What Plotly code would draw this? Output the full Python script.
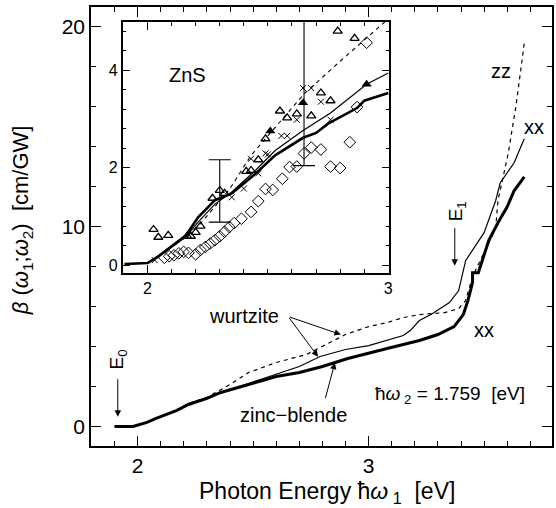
import plotly.graph_objects as go

# ---------------- main panel data ----------------
zb_xx_x = [1.90, 1.98, 2.04, 2.08, 2.17, 2.22, 2.30, 2.36, 2.48, 2.51, 2.60, 2.70, 2.80, 2.91, 3.00, 3.08,
           3.22, 3.30, 3.37, 3.41, 3.43, 3.45, 3.45, 3.475, 3.52, 3.56, 3.60, 3.63, 3.674]
zb_xx_y = [0.0, 0.0, 0.2, 0.4, 0.8, 1.1, 1.4, 1.7, 2.1, 2.2, 2.5, 2.7, 3.0, 3.4, 3.65, 3.9,
           4.3, 4.6, 5.0, 5.6, 6.3, 7.2, 7.7, 7.7, 9.3, 10.2, 11.0, 11.8, 12.5]

wz_xx_x = [1.90, 1.98, 2.04, 2.08, 2.17, 2.22, 2.30, 2.36, 2.48, 2.60, 2.70, 2.79, 2.90, 3.00, 3.08,
           3.15, 3.18, 3.22, 3.27, 3.35, 3.39, 3.42, 3.50, 3.55, 3.57, 3.63, 3.674]
wz_xx_y = [0.0, 0.0, 0.2, 0.4, 0.8, 1.15, 1.45, 1.7, 2.15, 2.6, 3.0, 3.5, 3.85, 4.05, 4.3,
           4.55, 4.8, 5.3, 5.6, 6.2, 6.8, 8.3, 9.7, 11.3, 12.2, 13.2, 14.4]

wz_zz_x = [1.90, 1.98, 2.04, 2.08, 2.17, 2.22, 2.30, 2.40, 2.48, 2.60, 2.73, 2.80, 2.90, 3.00, 3.08,
           3.15, 3.22, 3.33, 3.39, 3.42, 3.45, 3.52, 3.55, 3.56, 3.605, 3.64, 3.674]
wz_zz_y = [0.0, 0.0, 0.2, 0.4, 0.8, 1.15, 1.45, 2.1, 2.7, 3.2, 3.6, 4.0, 4.6, 5.0, 5.2,
           5.45, 5.6, 5.7, 5.9, 6.3, 7.5, 9.2, 9.9, 11.3, 13.7, 16.2, 19.2]

# ---------------- inset data ----------------
in_thick_x = [1.905, 2.0, 2.04, 2.10, 2.16, 2.21, 2.28, 2.35, 2.45, 2.53, 2.646, 2.70, 2.75, 2.87, 2.90, 3.0]
in_thick_y = [0.02, 0.04, 0.16, 0.38, 0.61, 0.98, 1.33, 1.47, 1.88, 2.25, 2.61, 2.71, 2.90, 3.22, 3.37, 3.53]

in_thin_x = [1.905, 2.0, 2.04, 2.10, 2.16, 2.21, 2.28, 2.35, 2.45, 2.53, 2.646, 2.76, 2.91, 3.0]
in_thin_y = [0.02, 0.04, 0.15, 0.36, 0.58, 0.88, 1.25, 1.5, 1.95, 2.35, 2.76, 3.12, 3.71, 3.94]

in_dash_x = [1.905, 2.0, 2.04, 2.10, 2.16, 2.22, 2.28, 2.34, 2.43, 2.65, 2.80, 3.0]
in_dash_y = [0.02, 0.04, 0.15, 0.36, 0.58, 0.85, 1.2, 1.55, 2.25, 3.51, 4.18, 5.05]

tri_x = [2.025, 2.045, 2.086, 2.165, 2.18, 2.20, 2.22, 2.27, 2.30, 2.32, 2.41, 2.43, 2.46,
         2.49, 2.55, 2.58, 2.62, 2.68, 2.72, 2.76, 2.79, 2.86]
tri_y = [0.73, 0.57, 0.61, 0.59, 0.59, 0.67, 0.80, 1.37, 1.53, 1.47, 1.92, 1.94, 2.16,
         2.59, 3.16, 3.02, 3.10, 3.06, 3.53, 3.37, 4.80, 4.65]

tri_fill_x = [2.51, 2.646, 2.91]
tri_fill_y = [2.75, 3.33, 3.71]

crs_x = [2.03, 2.35, 2.40, 2.43, 2.46, 2.49, 2.50, 2.556, 2.58, 2.62, 2.646, 2.68, 2.72, 2.76]
crs_y = [0.10, 1.39, 1.57, 2.18, 1.88, 2.29, 2.27, 2.65, 2.65, 2.98, 3.63, 3.63, 3.35, 2.98]

dia_x = [2.07, 2.09, 2.11, 2.13, 2.15, 2.17, 2.20, 2.22, 2.24, 2.26, 2.28, 2.30, 2.32, 2.34, 2.36,
         2.39, 2.43, 2.46, 2.49, 2.52, 2.56, 2.59, 2.62, 2.65, 2.68, 2.72, 2.76, 2.80, 2.84, 2.87, 2.91]
dia_y = [0.15, 0.18, 0.20, 0.24, 0.27, 0.25, 0.22, 0.31, 0.37, 0.44, 0.51, 0.59, 0.68, 0.78, 0.86,
         0.95, 1.09, 1.31, 1.56, 1.54, 1.77, 2.01, 2.02, 2.29, 2.41, 2.37, 2.02, 1.99, 2.52, 3.24, 4.56]

# error bars (centre, upper and lower extent)
err_x = [2.30, 2.65]
err_y = [1.53, 2.29]
err_plus = [0.63, 3.0]
err_minus = [0.65, 0.25]

FONT = "Liberation Sans, Arial, Helvetica, sans-serif"
K = "black"

fig = go.Figure()

# main curves
fig.add_trace(go.Scatter(x=wz_zz_x, y=wz_zz_y, mode="lines",
                         line=dict(color=K, width=1.2, dash="4px,4px"), showlegend=False))
fig.add_trace(go.Scatter(x=wz_xx_x, y=wz_xx_y, mode="lines",
                         line=dict(color=K, width=1.2), showlegend=False))
fig.add_trace(go.Scatter(x=zb_xx_x, y=zb_xx_y, mode="lines",
                         line=dict(color=K, width=3), showlegend=False))

# inset curves
fig.add_trace(go.Scatter(x=in_dash_x, y=in_dash_y, mode="lines", xaxis="x2", yaxis="y2",
                         line=dict(color=K, width=1.1, dash="4px,4px"), showlegend=False))
fig.add_trace(go.Scatter(x=in_thin_x, y=in_thin_y, mode="lines", xaxis="x2", yaxis="y2",
                         line=dict(color=K, width=1.2), showlegend=False))
fig.add_trace(go.Scatter(x=in_thick_x, y=in_thick_y, mode="lines", xaxis="x2", yaxis="y2",
                         line=dict(color=K, width=2.6), showlegend=False))

# error bars
fig.add_trace(go.Scatter(x=err_x, y=err_y, mode="markers", xaxis="x2", yaxis="y2",
                         marker=dict(size=1, color="rgba(0,0,0,0)"),
                         error_y=dict(type="data", symmetric=False, array=err_plus,
                                      arrayminus=err_minus, color=K, thickness=1.1, width=11),
                         showlegend=False, hoverinfo="skip"))

# inset markers
fig.add_trace(go.Scatter(x=dia_x, y=dia_y, mode="markers", xaxis="x2", yaxis="y2",
                         marker=dict(symbol="diamond-open", size=9, color=K, line=dict(width=1)),
                         showlegend=False))
fig.add_trace(go.Scatter(x=tri_x, y=tri_y, mode="markers", xaxis="x2", yaxis="y2",
                         marker=dict(symbol="triangle-up-open", size=8, color=K, line=dict(width=1.3)),
                         showlegend=False))
fig.add_trace(go.Scatter(x=tri_fill_x, y=tri_fill_y, mode="markers", xaxis="x2", yaxis="y2",
                         marker=dict(symbol="triangle-up", size=9, color=K),
                         showlegend=False))
fig.add_trace(go.Scatter(x=crs_x, y=crs_y, mode="markers", xaxis="x2", yaxis="y2",
                         marker=dict(symbol="x-thin-open", size=6, color=K, line=dict(width=1, color=K)),
                         showlegend=False))

axis_common = dict(showline=True, linecolor=K, linewidth=1.5, mirror="ticks", ticks="inside",
                   tickcolor=K, tickwidth=1.2, showgrid=False, zeroline=False,
                   tickfont=dict(family=FONT, size=21, color=K))
inset_font = dict(family=FONT, size=16, color=K)

fig.update_layout(
    width=556, height=508,
    margin=dict(l=91, r=0, t=7, b=62),
    paper_bgcolor="white", plot_bgcolor="white",
    xaxis=dict(range=[1.798, 3.794], dtick=1, tick0=0, ticklen=10,
               minor=dict(dtick=0.1, ticklen=5, ticks="inside", tickcolor=K, tickwidth=1), **axis_common),
    yaxis=dict(range=[-0.98, 21.0], dtick=10, tick0=0, ticklen=10,
               minor=dict(dtick=2, ticklen=5, ticks="inside", tickcolor=K, tickwidth=1), **axis_common),
    xaxis2=dict(domain=[0.0688, 0.647], anchor="y2", range=[1.897, 3.004], dtick=1, tick0=0, ticklen=8,
                minor=dict(dtick=0.1, ticklen=4, ticks="inside", tickcolor=K, tickwidth=1),
                **{**axis_common, "tickfont": inset_font}),
    yaxis2=dict(domain=[0.394, 0.9658], anchor="x2", range=[-0.164, 4.985], dtick=2, tick0=0, ticklen=8,
                minor=dict(dtick=0.4, ticklen=4, ticks="inside", tickcolor=K, tickwidth=1),
                **{**axis_common, "tickfont": inset_font}),
    font=dict(family=FONT, color=K),
)

ann = []
# axis titles
ann.append(dict(xref="paper", yref="paper", x=0.511, y=-0.105, showarrow=False,
                text="Photon Energy ħ<i>ω</i><sub> 1</sub>  [eV]", font=dict(size=23, family=FONT),
                xanchor="center", yanchor="middle"))
ann.append(dict(xref="paper", yref="paper", x=-0.149, y=0.515, showarrow=False, textangle=-90,
                text="<i>β</i> (<i>ω</i><sub>1</sub>;<i>ω</i><sub>2</sub>)  [cm/GW]",
                font=dict(size=22, family=FONT), xanchor="center", yanchor="middle"))
# labels
ann.append(dict(x=2.165, y=3.9, xref="x2", yref="y2", text="ZnS", showarrow=False,
                font=dict(size=20, family=FONT)))
ann.append(dict(x=3.571, y=17.78, text="zz", showarrow=False, font=dict(size=20, family=FONT)))
ann.append(dict(x=3.717, y=14.97, text="xx", showarrow=False, font=dict(size=20, family=FONT)))
ann.append(dict(x=3.498, y=4.85, text="xx", showarrow=False, font=dict(size=20, family=FONT)))
ann.append(dict(x=3.352, y=1.59, text="ħ<i>ω</i><sub> 2</sub> = 1.759  [eV]", showarrow=False,
                font=dict(size=19, family=FONT)))
ann.append(dict(x=2.459, y=5.55, text="wurtzite", showarrow=False, font=dict(size=20, family=FONT)))
ann.append(dict(x=2.674, y=0.59, text="zinc−blende", showarrow=False, font=dict(size=20, family=FONT)))
ann.append(dict(x=1.914, y=3.34, text="E<sub>0</sub>", showarrow=False, textangle=-90,
                font=dict(size=19, family=FONT)))
ann.append(dict(x=3.382, y=10.76, text="E<sub>1</sub>", showarrow=False, textangle=-90,
                font=dict(size=19, family=FONT)))
# arrows
arrow = dict(showarrow=True, text="", arrowhead=2, arrowsize=1.3, arrowwidth=1, arrowcolor=K,
             axref="x", ayref="y", xref="x", yref="y")
ann.append(dict(x=1.914, y=0.49, ax=1.914, ay=2.44, **arrow))
ann.append(dict(x=3.373, y=8.05, ax=3.373, ay=10.0, **arrow))
ann.append(dict(x=2.88, y=4.6, ax=2.652, ay=5.50, **arrow))
ann.append(dict(x=2.781, y=3.49, ax=2.652, ay=5.50, **arrow))
ann.append(dict(x=2.854, y=3.19, ax=2.811, ay=1.34, **arrow))

fig.update_layout(annotations=ann)

fig.write_html("out.html", config={"displayModeBar": False},
               post_script="document.body.style.margin='0px';document.body.style.padding='0px';")
